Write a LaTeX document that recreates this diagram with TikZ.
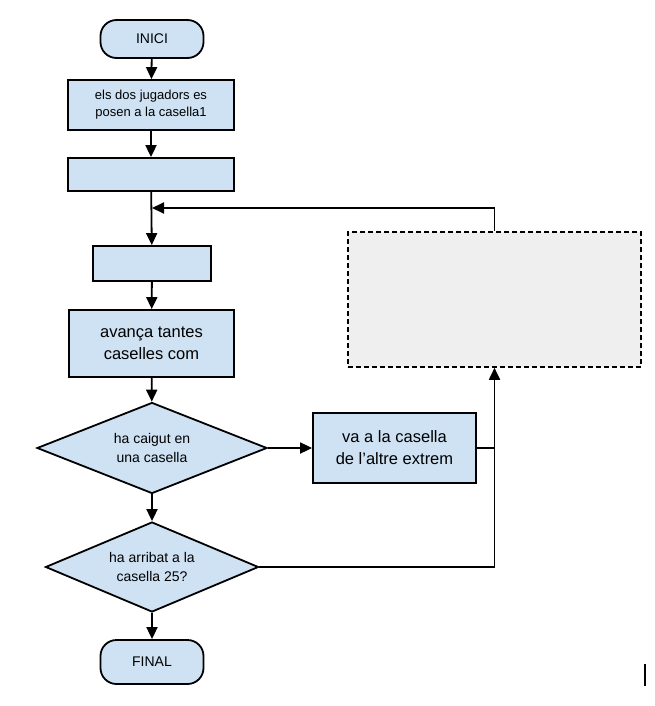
\documentclass[tikz,border=0pt]{standalone}
\usepackage{fontspec}
\setmainfont{Liberation Sans}
\usetikzlibrary{shapes.geometric,arrows.meta}
\definecolor{boxblue}{HTML}{CFE2F3}
\definecolor{dashgray}{HTML}{EFEFEF}
\begin{document}
\begin{tikzpicture}[x=1pt,y=-1pt,
  base/.style={draw,line width=1.8pt,fill=boxblue,inner sep=0pt,align=center},
  term/.style={base,rounded corners=16pt},
  procbox/.style={base,rectangle},
  decision/.style={base,diamond,shape aspect=2.5},
  conn/.style={line width=1.8pt,-{Triangle[length=12pt,width=11pt]}},
  plain/.style={line width=1.8pt}]
\useasboundingbox (0,0) rectangle (655,706);
\node[term,minimum width=103pt,minimum height=38pt,font=\fontsize{14}{16}\selectfont] (inici) at (152,39) {INICI};
\node[procbox,minimum width=166pt,minimum height=50pt,font=\fontsize{13}{17}\selectfont] (b1) at (151,105) {els dos jugadors es\\posen a la casella1};
\node[procbox,minimum width=166pt,minimum height=33pt] (b2) at (151,174.5) {};
\node[procbox,minimum width=118pt,minimum height=35pt] (b3) at (152,263.5) {};
\node[procbox,minimum width=165pt,minimum height=67pt,font=\fontsize{16.5}{22}\selectfont] (b4) at (151.5,343.5) {avança tantes\\caselles com};
\node[decision,minimum width=230pt,minimum height=91pt,font=\fontsize{14}{19}\selectfont] (d1) at (152,448) {ha caigut en\\una casella};
\node[procbox,minimum width=163pt,minimum height=70pt,font=\fontsize{16.5}{22}\selectfont] (b5) at (394.5,448) {va a la casella\\de l’altre extrem};
\node[draw,line width=1.6pt,dash pattern=on 5pt off 3pt,fill=dashgray,minimum width=293pt,minimum height=135pt,inner sep=0pt] (dash) at (494.5,299.5) {};
\node[decision,minimum width=213pt,minimum height=90pt,font=\fontsize{14}{19}\selectfont] (d2) at (152,567) {ha arribat a la\\casella 25?};
\node[term,minimum width=103pt,minimum height=44pt,font=\fontsize{14}{16}\selectfont] (final) at (152,662) {FINAL};
\coordinate (j1) at (494.5,208);
\coordinate (j2) at (152,208);
\coordinate (j3) at (494.5,448);
\coordinate (j4) at (494.5,567);
\coordinate (m1) at (645,664);
\coordinate (m2) at (645,686);
\draw[conn] (inici) -- (b1);
\draw[conn] (b1) -- (b2);
\draw[conn] (b2) -- (b3);
\draw[conn] (b3) -- (b4);
\draw[conn] (b4) -- (d1);
\draw[conn] (d1) -- (b5);
\draw[conn] (d1) -- (d2);
\draw[conn] (d2) -- (final);
\draw[plain] (b5.east) -- (j3);
\draw[conn] (d2.east) -- (j4) -- (dash.south);
\draw[conn] (dash.north) -- (j1) -- (j2);
\draw[line width=1.2pt] (m1) -- (m2);
\end{tikzpicture}
\end{document}
